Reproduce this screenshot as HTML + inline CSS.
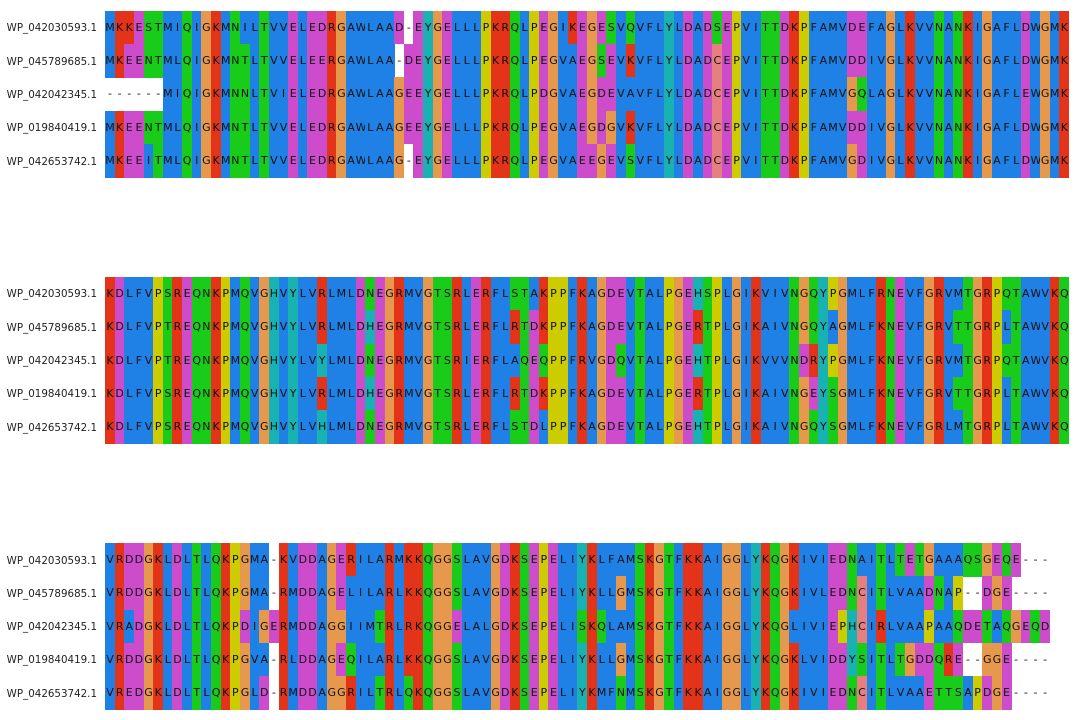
<!DOCTYPE html>
<html><head><meta charset="utf-8"><style>
body{margin:0;background:#fff;width:1080px;height:720px;position:relative;overflow:hidden;font-family:"DejaVu Sans","Liberation Sans",sans-serif}
.lab{position:absolute;right:983px;font-size:10.3px;color:#222;white-space:nowrap;line-height:33.33px;height:33.33px}
.c{position:absolute;height:33.6px;text-align:center;font-size:11px;color:#111;line-height:33.33px}
</style></head><body>
<script>
const names=["WP_042030593.1","WP_045789685.1","WP_042042345.1","WP_019840419.1","WP_042653742.1"];
const block1=["MKKESTMIQIGKMNILTVVELEDRGAWLAAD-EYGELLLPKRQLPEGIKEGESVQVFLYLDADSEPVITTDKPFAMVDEFAGLKVVNANKIGAFLDWGMK",
"MKEENTMLQIGKMNTLTVVELEERGAWLAA-DEYGELLLPKRQLPEGVAEGSEVKVFLYLDADCEPVITTDKPFAMVDDIVGLKVVNANKIGAFLDWGMK",
"------MIQIGKMNNLTVIELEDRGAWLAAGEEYGELLLPKRQLPDGVAEGDEVAVFLYLDADCEPVITTDKPFAMVGQLAGLKVVNANKIGAFLEWGMK",
"MKEENTMLQIGKMNTLTVVELEDRGAWLAAGEEYGELLLPKRQLPEGVAEGDGVKVFLYLDADCEPVITTDKPFAMVDDIVGLKVVNANKIGAFLDWGMK",
"MKEEITMLQIGKMNTLTVVELEDRGAWLAAG-EYGELLLPKRQLPEGVAEEGEVSVFLYLDADCEPVITTDKPFAMVGDIVGLKVVNANKIGAFLDWGMK"];
const block2=["KDLFVPSREQNKPMQVGHVYLVRLMLDNEGRMVGTSRLERFLSTAKPPFKAGDEVTALPGEHSPLGIKVIVNGQYPGMLFRNEVFGRVMTGRPQTAWVKQ",
"KDLFVPTREQNKPMQVGHVYLVRLMLDHEGRMVGTSRLERFLRTDKPPFKAGDEVTALPGERTPLGIKAIVNGQYAGMLFKNEVFGRVTTGRPLTAWVKQ",
"KDLFVPTREQNKPMQVGHVYLVYLMLDNEGRMVGTSRIERFLAQEQPPFRVGDQVTALPGEHTPLGIKVVVNDRYPGMLFKNEVFGRVMTGRPQTAWVKQ",
"KDLFVPSREQNKPMQVGHVYLVRLMLDHEGRMVGTSRLERFLRTDKPPFKAGDEVTALPGERTPLGIKAIVNGEYSGMLFKNEVFGRVTTGRPLTAWVKQ",
"KDLFVPSREQNKPMQVGHVYLVHLMLDNEGRMVGTSRLERFLSTDLPPFKAGDEVTALPGEHTPLGIKAIVNGQYSGMLFKNEVFGRLMTGRPLTAWVKQ"];
const block3=["VRDDGKLDLTLQKPGMA-KVDDAGERILARMKKQGGSLAVGDKSEPELIYKLFAMSKGTFKKAIGGLYKQGKIVIEDNAITLTETGAAAQSGEQE---",
"VRDDGKLDLTLQKPGMA-RMDDAGELILARLKKQGGSLAVGDKSEPELIYKLLGMSKGTFKKAIGGLYKQGKIVLEDNCITLVAADNAP--DGE----",
"VRADGKLDLTLQKPDIGERMDDAGGIIMTRLRKQGGELALGDKSEPELISKQLAMSKGTFKKAIGGLYKQGLIVIEPHCIRLVAAPAAQDETAQGEQD",
"VRDDGKLDLTLQKPGVA-RLDDAGEQILARLKKQGGSLAVGDKSEPELIYKLLGMSKGTFKKAIGGLYKQGKLVIDDYSITLTGDDQRE--GGE----",
"VREDGKLDLTLQKPGLD-RMDDAGGRILTRLQKQGGSLAVGDKSEPELIYKMFNMSKGTFKKAIGGLYKQGKIVIEDNCITLVAAETTSAPDGE----"];
const blocks=[block1,block2,block3];
const blockTops=[10.8,276.9,543];
const colors={A:"#1f80e6",I:"#1f80e6",L:"#1f80e6",M:"#1f80e6",F:"#1f80e6",W:"#1f80e6",V:"#1f80e6",
K:"#e33419",R:"#e33419",D:"#cc4ccc",E:"#cc4ccc",N:"#19cc19",Q:"#19cc19",S:"#19cc19",T:"#19cc19",
G:"#e6994c",P:"#cccc00",H:"#19b2b2",Y:"#19b2b2",C:"#e68080"};
const X0=105,CW=9.64,RH=33.33;
let html="";
blocks.forEach((blk,bi)=>{
  blk.forEach((seq,ri)=>{
    const y=blockTops[bi]+ri*RH;
    html+=`<div class="lab" style="top:${y+1.5}px">${names[ri]}</div>`;
    for(let i=0;i<seq.length;i++){
      const ch=seq[i];const bg=colors[ch]||"transparent";
      html+=`<div class="c" style="left:${(X0+i*CW).toFixed(2)}px;top:${y}px;width:${(CW+0.4).toFixed(2)}px;background:${bg}">${ch}</div>`;
    }
  });
});
document.body.insertAdjacentHTML('beforeend',html);
</script>
</body></html>
